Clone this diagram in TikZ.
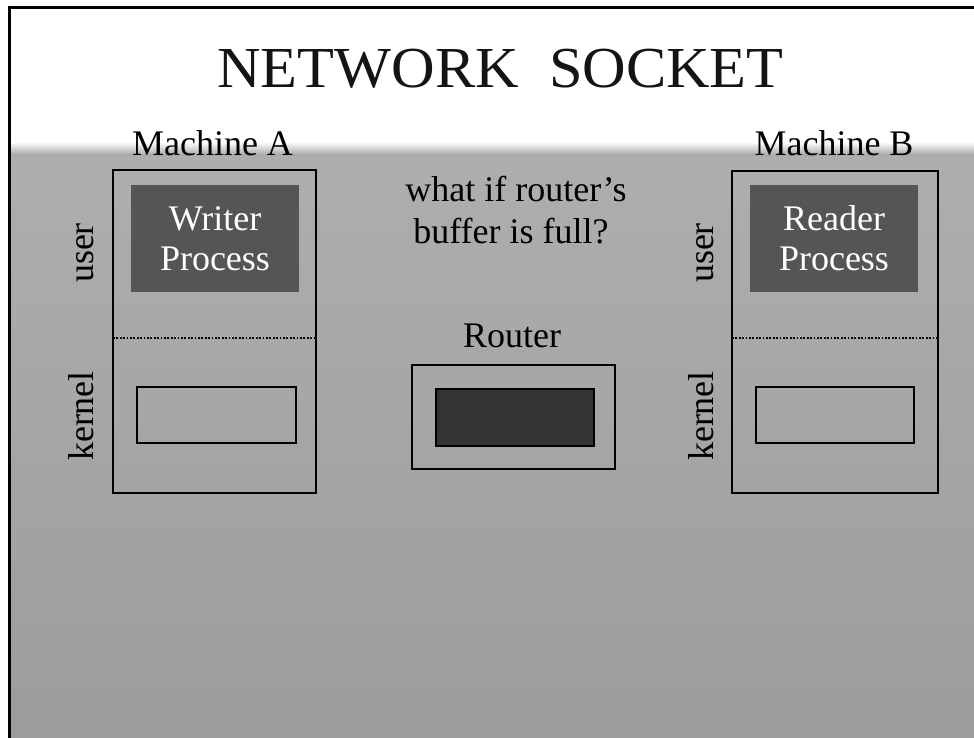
\documentclass[tikz,border=0pt]{standalone}
\usepackage{fontspec}
\setmainfont{Liberation Serif}
\definecolor{slidetop}{HTML}{AEAEAE}
\definecolor{slidebot}{HTML}{9C9C9C}
\definecolor{procfill}{HTML}{555555}
\definecolor{bufdark}{HTML}{333333}
\tikzset{
  box/.style={draw=black, line width=2.5pt},
  proc/.style={fill=procfill},
  split/.style={line width=1.8pt, dash pattern=on 1.8pt off 1.6pt},
  lbl/.style={font=\fontsize{36}{41}\selectfont, inner sep=0pt, anchor=base},
  plbl/.style={lbl, text=white},
  side/.style={lbl, rotate=90},
}
\begin{document}
\begin{tikzpicture}[x=1pt, y=-1pt]
  \useasboundingbox (0,0) rectangle (974,738);
  % slide background: white title band fading into grey
  \fill[white] (0,0) rectangle (974,738);
  \shade[top color=slidetop, bottom color=slidebot] (11,156) rectangle (974,738);
  \shade[top color=white, bottom color=slidetop!92!black] (11,142) rectangle (974,156);
  \draw[line width=3pt] (9.5,738) -- (9.5,7.5) -- (974,7.5);

  % title
  \node[inner sep=0pt, anchor=base, font=\fontsize{58}{64}\selectfont,
        text=black!92] (title)
    at (500.5,88) {\scalebox{1.04}[1]{NETWORK\ \ SOCKET}};

  % Machine A
  \node[lbl] (ma) at (212.5,156) {Machine A};
  \draw[box] (113,170) rectangle (316,493);
  \fill[proc] (131,185) rectangle (299,292);
  \node[plbl] (wr1) at (215,230) {Writer};
  \node[plbl] (wr2) at (215,270) {Process};
  \draw[split] (113,338) -- (316,338);
  \draw[box] (137,387) rectangle (296,443);
  \node[side] (ua) at (93,253) {user};
  \node[side] (ka) at (93,416) {kernel};

  % Machine B
  \node[lbl] (mb) at (834,156) {Machine B};
  \draw[box] (732,171) rectangle (938,493);
  \fill[proc] (750,185) rectangle (918,292);
  \node[plbl] (rd1) at (834,230) {Reader};
  \node[plbl] (rd2) at (834,270) {Process};
  \draw[split] (732,338) -- (938,338);
  \draw[box] (756,387) rectangle (914,443);
  \node[side] (ub) at (713,253) {user};
  \node[side] (kb) at (713,416) {kernel};

  % Router
  \node[lbl] (q1) at (516,202) {what if router’s};
  \node[lbl] (q2) at (511,243) {buffer is full?};
  \node[lbl] (rt) at (512,347) {Router};
  \draw[box] (412,365) rectangle (615,469);
  \draw[box, fill=bufdark] (436,389) rectangle (594,446);
\end{tikzpicture}
\end{document}
